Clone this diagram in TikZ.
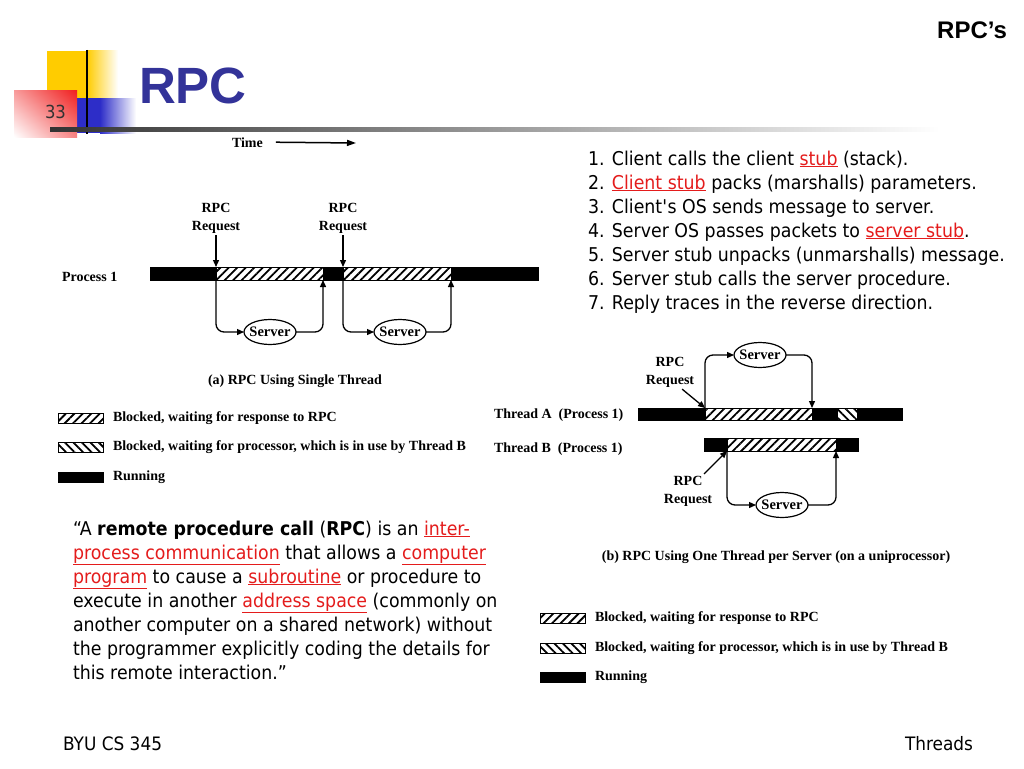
\documentclass[tikz,border=0pt]{standalone}
\usepackage{fontspec}
\setmainfont[FakeStretch=0.915]{DejaVu Sans}
\newfontfamily\figfont{Liberation Serif}
\newfontfamily\headfont{Liberation Sans}
\usetikzlibrary{positioning, shapes.geometric, patterns.meta, arrows.meta, shadings}

\definecolor{titleblue}{RGB}{51,51,153}
\definecolor{linkred}{RGB}{228,28,28}
\definecolor{logoyellow}{RGB}{255,204,0}
\definecolor{logored}{RGB}{240,30,30}
\definecolor{logoblue}{RGB}{45,45,200}

\newcommand{\lnk}[1]{\textcolor{linkred}{\underline{#1}}}

\tikzset{
  runseg/.style={rectangle, draw=black, fill=black, minimum height=13pt, anchor=west},
  waitseg/.style={runseg, fill=white, pattern={Lines[angle=45, distance=6pt, line width=1.8pt]}},
  cpuseg/.style={runseg, fill=white, pattern={Lines[angle=-45, distance=6pt, line width=1.8pt]}},
  figtext/.style={font=\figfont\bfseries\fontsize{14}{18}\selectfont},
  server/.style={ellipse, draw=black, line width=1.2pt, inner xsep=-6pt, inner ysep=0pt,
    minimum width=52pt, minimum height=25pt, font=\figfont\bfseries\fontsize{14.5}{14.5}\selectfont},
  flow/.style={draw=black, line width=1.3pt, rounded corners=8pt, -{Triangle[length=7pt, width=6pt]}},
  slidetext/.style={font=\fontsize{19}{24}\selectfont, align=left, anchor=base west}
}

\begin{document}
\begin{tikzpicture}[x=1pt, y=-1pt, inner sep=0, outer sep=0]
  \fill[white] (0,0) rectangle (1024,768);
  \useasboundingbox (0,0) rectangle (1024,768);

  % logo
  \fill[logoyellow] (47,51) rectangle (87,98);
  \shade[left color=logoyellow, right color=white] (87,51) rectangle (118,98);
  \fill[logoblue] (77,98) rectangle (100,133);
  \shade[left color=logoblue, right color=white] (100,98) rectangle (136,133);
  \shade[upper right=logored, upper left=logored!45!white,
    lower right=logored!55!white, lower left=white] (14,90) rectangle (77,137);
  \draw[line width=2.5pt] (87,50) -- (87,134);
  \shade[left color=black!80, right color=white] (50,127) rectangle (940,131);

  \node[anchor=base west, font=\fontsize{18}{18}\selectfont, text=black!80] (pagenum) at (45,118) {33};
  \node[anchor=base west, font=\headfont\bfseries\fontsize{51}{51}\selectfont, text=titleblue] (title) at (139,103) {RPC};
  \node[anchor=base east, font=\headfont\bfseries\fontsize{24}{24}\selectfont] (topic) at (1007,39) {RPC’s};

  % (a) single thread
  \node[figtext, anchor=base west] (timelbl) at (232,147) {Time};
  \coordinate (timeend) at (356,143);
  \draw[line width=1.5pt, -{Triangle[length=9pt, width=6pt]}] ([xshift=13pt]timelbl.east) -- (timeend);

  \node[figtext, anchor=base west] (proc1) at (62,281) {Process 1};
  \node[runseg, minimum width=66pt] (p1r1) at (150,273.5) {};
  \node[waitseg, minimum width=107pt, right=0pt of p1r1] (p1w1) {};
  \node[runseg, minimum width=20pt, right=0pt of p1w1] (p1r2) {};
  \node[waitseg, minimum width=108pt, right=0pt of p1r2] (p1w2) {};
  \node[runseg, minimum width=87pt, right=0pt of p1w2] (p1r3) {};

  \node[figtext, align=center] (req1) at (216,218) {RPC\\Request};
  \node[figtext, align=center] (req2) at (343,218) {RPC\\Request};
  \draw[flow] ([yshift=-2pt]req1.south) -- (p1w1.north west);
  \draw[flow] ([yshift=-2pt]req2.south) -- (p1w2.north west);

  \node[server] (srv1) at (270,332) {Server};
  \node[server] (srv2) at (400,332) {Server};
  \draw[flow] (p1w1.south west) |- (srv1.west);
  \draw[flow] (srv1.east) -| (p1w1.south east);
  \draw[flow] (p1w2.south west) |- (srv2.west);
  \draw[flow] (srv2.east) -| (p1w2.south east);

  \node[figtext] (capa) at (295,381) {(a) RPC Using Single Thread};

  \node[waitseg, minimum width=45pt, minimum height=10pt] (keyA1) at (58,418) {};
  \node[figtext, right=10pt of keyA1] (keyA1t) {Blocked, waiting for response to RPC};
  \node[cpuseg, minimum width=45pt, minimum height=10pt] (keyA2) at (58,447) {};
  \node[figtext, right=10pt of keyA2] (keyA2t) {Blocked, waiting for processor, which is in use by Thread B};
  \node[runseg, minimum width=45pt, minimum height=10pt] (keyA3) at (58,477) {};
  \node[figtext, right=10pt of keyA3] (keyA3t) {Running};

  % (b) one thread per server
  \node[figtext, anchor=base west] (thrA) at (494,418) {Thread A \ (Process 1)};
  \node[figtext, anchor=base west] (thrB) at (494,452) {Thread B \ (Process 1)};

  \node[runseg, minimum width=67pt, minimum height=12pt] (tAr1) at (638,414) {};
  \node[waitseg, minimum width=107pt, minimum height=12pt, right=0pt of tAr1] (tAw1) {};
  \node[runseg, minimum width=25pt, minimum height=12pt, right=0pt of tAw1] (tAr2) {};
  \node[cpuseg, minimum width=20pt, minimum height=12pt, right=0pt of tAr2] (tAc1) {};
  \node[runseg, minimum width=45pt, minimum height=12pt, right=0pt of tAc1] (tAr3) {};

  \node[runseg, minimum width=23pt] (tBr1) at (704,444.5) {};
  \node[waitseg, minimum width=109pt, right=0pt of tBr1] (tBw1) {};
  \node[runseg, minimum width=22pt, right=0pt of tBw1] (tBr2) {};

  \node[server] (srvA) at (760,355) {Server};
  \node[server] (srvB) at (782,505) {Server};
  \draw[flow] (tAw1.north west) |- (srvA.west);
  \draw[flow] (srvA.east) -| (tAw1.north east);
  \draw[flow] (tBw1.south west) |- (srvB.west);
  \draw[flow] (srvB.east) -| (tBw1.south east);

  \node[figtext, align=center] (reqA) at (670,372) {RPC\\Request};
  \node[figtext, align=center] (reqB) at (688,491) {RPC\\Request};
  \draw[flow] ([xshift=-12pt, yshift=-2pt]reqA.south east) -- (tAw1.north west);
  \draw[flow] ([xshift=-8pt, yshift=2pt]reqB.north east) -- (tBw1.south west);

  \node[figtext] (capb) at (776,557) {(b) RPC Using One Thread per Server (on a uniprocessor)};

  \node[waitseg, minimum width=45pt, minimum height=10pt] (keyB1) at (540,618) {};
  \node[figtext, right=10pt of keyB1] (keyB1t) {Blocked, waiting for response to RPC};
  \node[cpuseg, minimum width=45pt, minimum height=10pt] (keyB2) at (540,648) {};
  \node[figtext, right=10pt of keyB2] (keyB2t) {Blocked, waiting for processor, which is in use by Thread B};
  \node[runseg, minimum width=45pt, minimum height=10pt] (keyB3) at (540,677) {};
  \node[figtext, right=10pt of keyB3] (keyB3t) {Running};

  % slide text (base = last line)
  \node[slidetext] (steps) at (588,309) {1. Client calls the client \lnk{stub} (stack).\\
    2. \lnk{Client stub} packs (marshalls) parameters.\\
    3. Client\textquotesingle s OS sends message to server.\\
    4. Server OS passes packets to \lnk{server stub}.\\
    5. Server stub unpacks (unmarshalls) message.\\
    6. Server stub calls the server procedure.\\
    7. Reply traces in the reverse direction.};

  \node[slidetext] (quote) at (73,679) {“A \textbf{remote procedure call} (\textbf{RPC}) is an \lnk{inter-}\\
    \lnk{process communication} that allows a \lnk{computer}\\
    \lnk{program} to cause a \lnk{subroutine} or procedure to\\
    execute in another \lnk{address space} (commonly on\\
    another computer on a shared network) without\\
    the programmer explicitly coding the details for\\
    this remote interaction.”};

  \node[anchor=base west, font=\fontsize{18.5}{18.5}\selectfont] (course) at (63,750) {BYU CS 345};
  \node[anchor=base east, font=\fontsize{18.5}{18.5}\selectfont] (chapter) at (973,750) {Threads};
\end{tikzpicture}
\end{document}
